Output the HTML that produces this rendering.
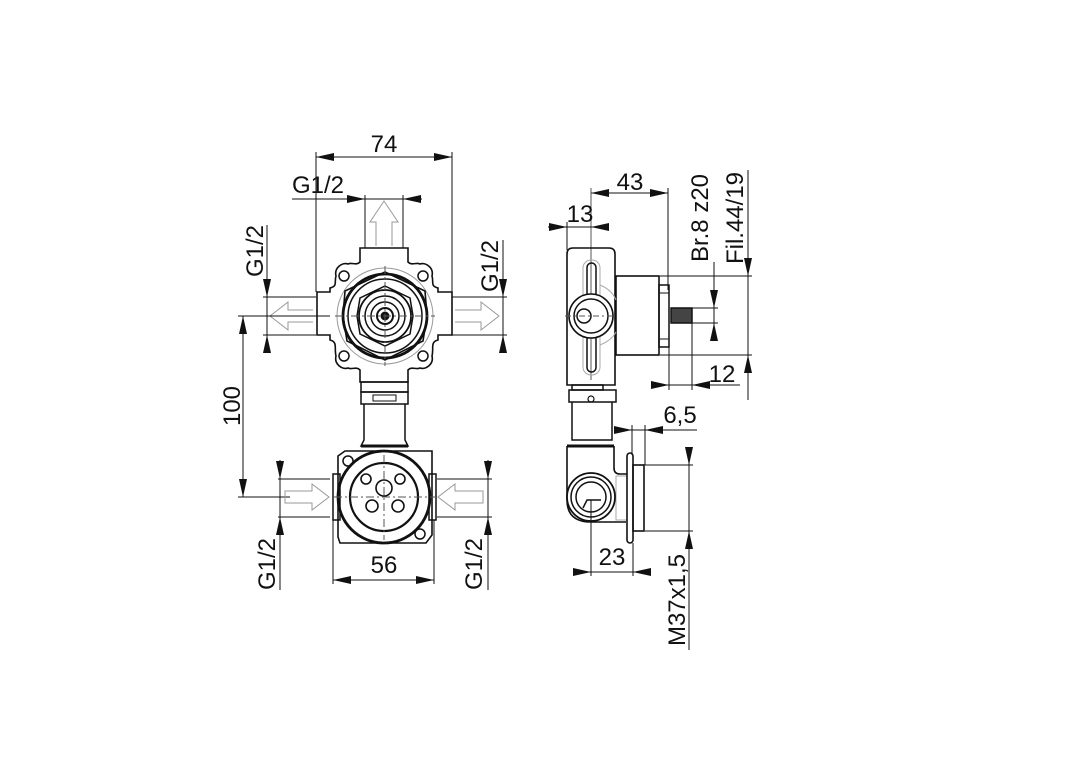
<!DOCTYPE html>
<html><head><meta charset="utf-8"><style>
html,body{margin:0;padding:0;background:#fff;}
svg{display:block;}
text{font-family:"Liberation Sans",Arial,sans-serif;font-size:24px;fill:#111;}
</style></head><body>
<svg width="1080" height="763" viewBox="0 0 1080 763" xmlns="http://www.w3.org/2000/svg">
<g stroke="#111" stroke-width="1" fill="none">
<line x1="316" y1="157" x2="452" y2="157"/>
<line x1="316" y1="152" x2="316" y2="292"/>
<line x1="452" y1="152" x2="452" y2="292"/>
<line x1="292" y1="199" x2="422" y2="199"/>
<line x1="365" y1="195" x2="365" y2="248"/>
<line x1="403" y1="195" x2="403" y2="248"/>
<path d="M376 246 V222 H370 L384 201 L398 222 H392 V246" stroke="#999"/>
<line x1="267" y1="225" x2="267" y2="352"/>
<line x1="263" y1="297" x2="316" y2="297"/>
<line x1="263" y1="335" x2="316" y2="335"/>
<line x1="503" y1="240" x2="503" y2="352"/>
<line x1="452" y1="297" x2="507" y2="297"/>
<line x1="452" y1="335" x2="507" y2="335"/>
<path d="M313 310 H288 V302 L270 316 L288 330 V322 H313" stroke="#999"/>
<path d="M455 310 H481 V302 L499 316 L481 330 V322 H455" stroke="#999"/>
<line x1="243" y1="316" x2="243" y2="497"/>
<line x1="238" y1="316" x2="330" y2="316"/>
<line x1="238" y1="497" x2="290" y2="497"/>
<path d="M360 248 H408 V262 C412 266 416 262 420 264 C426 262 434 268 432 276 C434 282 430 286 438 288 V292 H452 V335 H438 V340 C430 342 434 348 432 356 C434 364 426 370 420 368 C416 370 412 366 408 370 V382 H360 V370 C356 366 352 370 348 368 C342 370 334 364 336 356 C334 348 338 342 330 340 V335 H317 V292 H330 V288 C338 286 334 282 336 276 C334 268 342 262 348 264 C352 262 356 266 360 262 Z" stroke-width="1.6"/>
<circle cx="385" cy="316" r="48" stroke="#999"/>
<circle cx="344" cy="276" r="5" stroke-width="1.5"/>
<circle cx="423" cy="276" r="5" stroke-width="1.5"/>
<circle cx="344" cy="356" r="5" stroke-width="1.5"/>
<circle cx="423" cy="356" r="5" stroke-width="1.5"/>
<path d="M385 272 L425 291 L427 316 L423 341 L385 360 L347 341 L343 316 L345 291 Z" stroke-width="1.6"/>
<circle cx="385" cy="316" r="42" stroke-width="2.8"/>
<circle cx="385" cy="316" r="37" stroke-width="1.5"/>
<path d="M385 286 L410 298 L413 316 L410 334 L385 346 L360 334 L357 316 L360 298 Z" stroke-width="1.5"/>
<circle cx="385" cy="316" r="26" stroke-width="1.8"/>
<circle cx="385" cy="316" r="20" stroke-width="1.5"/>
<circle cx="385" cy="316" r="14" stroke-width="1.5"/>
<circle cx="385" cy="316" r="8" stroke-width="2"/>
<circle cx="385" cy="316" r="4" fill="#111"/>
<line x1="335" y1="316" x2="435" y2="316" stroke-dasharray="8 3 2 3" stroke="#555"/>
<line x1="385" y1="266" x2="385" y2="366" stroke-dasharray="8 3 2 3" stroke="#555"/>
<rect x="361" y="382" width="47" height="10" stroke-width="1.5"/>
<rect x="361" y="392" width="47" height="12" stroke-width="1.5"/>
<rect x="373" y="395" width="23" height="6"/>
<path d="M364 404 V440 L361 446 H408 L405 440 V404" stroke-width="1.5"/>
<line x1="361" y1="446" x2="408" y2="446" stroke-width="3"/>
<path d="M345 451 H432 V535 L426 543 H340 L338 537 V456 Z" stroke-width="1.6"/>
<rect x="333" y="474" width="7" height="46" stroke-width="1.5"/>
<rect x="429" y="474" width="7" height="46" stroke-width="1.5"/>
<circle cx="384" cy="497" r="46" stroke-width="2.8"/>
<circle cx="384" cy="497" r="34" stroke-width="2.2"/>
<circle cx="348" cy="461" r="5" stroke-width="1.5"/>
<circle cx="420" cy="534" r="5" stroke-width="1.5"/>
<circle cx="366" cy="479" r="5" stroke-width="1.6"/>
<circle cx="400" cy="479" r="5" stroke-width="1.6"/>
<circle cx="384" cy="488" r="8" stroke-width="1.6"/>
<circle cx="372" cy="506" r="6" stroke-width="1.6"/>
<circle cx="398" cy="506" r="6" stroke-width="1.6"/>
<line x1="334" y1="497" x2="436" y2="497" stroke-dasharray="8 3 2 3" stroke="#555"/>
<line x1="384" y1="455" x2="384" y2="540" stroke-dasharray="8 3 2 3" stroke="#555"/>
<path d="M285 491 H312 V484 L329 497 L312 510 V503 H285 Z" stroke="#999"/>
<path d="M483 491 H455 V484 L438 497 L455 510 V503 H483 Z" stroke="#999"/>
<line x1="278" y1="479" x2="330" y2="479"/>
<line x1="278" y1="517" x2="330" y2="517"/>
<line x1="437" y1="479" x2="492" y2="479"/>
<line x1="437" y1="517" x2="492" y2="517"/>
<line x1="280" y1="460" x2="280" y2="590"/>
<line x1="488" y1="460" x2="488" y2="590"/>
<line x1="333" y1="580" x2="434" y2="580"/>
<line x1="333" y1="520" x2="333" y2="584"/>
<line x1="434" y1="520" x2="434" y2="584"/>

<line x1="591" y1="193" x2="668" y2="193"/>
<line x1="591" y1="188" x2="591" y2="380" stroke="#555"/>
<line x1="668" y1="188" x2="668" y2="290"/>
<line x1="548" y1="227" x2="609" y2="227"/>
<line x1="567" y1="222" x2="567" y2="250"/>
<path d="M567 385 V254 Q567 248 573 248 H609 Q615 248 615 254 V385 Z" stroke-width="1.6"/>
<rect x="572" y="385" width="31" height="5" stroke-width="1.5"/>
<rect x="616" y="276" width="43" height="79" stroke-width="1.6"/>
<rect x="659" y="285" width="10" height="62" stroke-width="1.5"/>
<line x1="659" y1="293" x2="669" y2="293"/><line x1="659" y1="339" x2="669" y2="339"/>
<rect x="671" y="308" width="21" height="15" stroke-width="1.5" fill="#444"/>
<rect x="587" y="263" width="9" height="109" rx="4.5" stroke-width="1.5"/>
<rect x="583" y="260" width="17" height="115" rx="8" stroke="#aaa"/>
<path d="M600 285 Q612 290 616 300 M600 345 Q612 340 616 332" stroke="#aaa"/>
<circle cx="591" cy="316" r="22" stroke-width="1.6" fill="#fff"/>
<circle cx="591" cy="316" r="17" stroke-width="1.5"/>
<circle cx="584" cy="316" r="7" stroke-width="1.5"/>
<line x1="565" y1="316" x2="615" y2="316" stroke-dasharray="6 3 2 3" stroke="#555"/>
<line x1="714" y1="262" x2="714" y2="340"/>
<line x1="692" y1="308" x2="718" y2="308"/>
<line x1="692" y1="323" x2="718" y2="323"/>
<line x1="748" y1="170" x2="748" y2="400"/>
<line x1="660" y1="276" x2="752" y2="276"/>
<line x1="660" y1="355" x2="752" y2="355"/>
<line x1="651" y1="385" x2="740" y2="385"/>
<line x1="669" y1="347" x2="669" y2="390"/>
<line x1="692" y1="323" x2="692" y2="390"/>
<rect x="569" y="390" width="47" height="12" stroke-width="1.5"/>
<circle cx="591" cy="399" r="3" stroke-width="1.2"/>
<path d="M572 402 V440 H612 V402" stroke-width="1.5"/>
<line x1="567" y1="446" x2="614" y2="446" stroke-width="3"/>
<path d="M567 446 V500 Q567 522 591 522 H626 M614 446 V468 Q614 474 620 474 H627" stroke-width="1.6"/>
<rect x="616" y="476" width="11" height="44" stroke="#aaa"/>
<circle cx="591" cy="497" r="24" stroke-width="1.8" fill="#fff"/>
<circle cx="591" cy="497" r="20" stroke-width="1.5"/>
<circle cx="591" cy="497" r="15" stroke-width="1.5"/>
<path d="M583 508 L587 500 H601" stroke-width="1.5"/>
<rect x="627" y="453" width="6" height="90" rx="3" stroke-width="1.6"/>
<rect x="633" y="465" width="11" height="66" stroke-width="1.6"/>
<line x1="614" y1="430" x2="697" y2="430"/>
<line x1="632" y1="425" x2="632" y2="455"/>
<line x1="645" y1="425" x2="645" y2="465"/>
<line x1="689" y1="447" x2="689" y2="650"/>
<line x1="645" y1="465" x2="693" y2="465"/>
<line x1="645" y1="531" x2="693" y2="531"/>
<line x1="573" y1="572" x2="651" y2="572"/>
<line x1="591" y1="500" x2="591" y2="576"/>
<line x1="633" y1="543" x2="633" y2="576"/>
</g>

<g fill="#111">
<polygon points="316,157 334,153 334,161"/><polygon points="452,157 434,153 434,161"/>
<polygon points="365,199 347,195 347,203"/><polygon points="403,199 421,195 421,203"/>
<polygon points="267,297 263,279 271,279"/><polygon points="267,335 263,353 271,353"/>
<polygon points="503,297 499,279 507,279"/><polygon points="503,335 499,353 507,353"/>
<polygon points="243,316 239,334 247,334"/><polygon points="243,497 239,479 247,479"/>
<polygon points="280,479 276,461 284,461"/><polygon points="280,517 276,535 284,535"/>
<polygon points="488,479 484,461 492,461"/><polygon points="488,517 484,535 492,535"/>
<polygon points="333,580 351,576 351,584"/><polygon points="434,580 416,576 416,584"/>
<polygon points="591,193 609,189 609,197"/><polygon points="668,193 650,189 650,197"/>
<polygon points="567,227 549,223 549,231"/><polygon points="591,227 609,223 609,231"/>
<polygon points="714,308 710,290 718,290"/><polygon points="714,323 710,341 718,341"/>
<polygon points="748,276 744,258 752,258"/><polygon points="748,355 744,373 752,373"/>
<polygon points="669,385 651,381 651,389"/><polygon points="692,385 710,381 710,389"/>
<polygon points="632,430 614,426 614,434"/><polygon points="645,430 663,426 663,434"/>
<polygon points="689,465 685,447 693,447"/><polygon points="689,531 685,549 693,549"/>
<polygon points="591,572 573,568 573,576"/><polygon points="633,572 651,568 651,576"/>
</g>

<text x="384" y="152" text-anchor="middle">74</text>
<text x="318" y="193" text-anchor="middle">G1/2</text>
<text transform="translate(263,251) rotate(-90)" text-anchor="middle">G1/2</text>
<text transform="translate(498,266) rotate(-90)" text-anchor="middle">G1/2</text>
<text transform="translate(240,406) rotate(-90)" text-anchor="middle">100</text>
<text transform="translate(275,564) rotate(-90)" text-anchor="middle">G1/2</text>
<text transform="translate(482,564) rotate(-90)" text-anchor="middle">G1/2</text>
<text x="384" y="573" text-anchor="middle">56</text>
<text x="630" y="190" text-anchor="middle">43</text>
<text x="580" y="222" text-anchor="middle">13</text>
<text transform="translate(708,218) rotate(-90)" text-anchor="middle">Br.8 z20</text>
<text transform="translate(743,218) rotate(-90)" text-anchor="middle">Fil.44/19</text>
<text x="722" y="382" text-anchor="middle">12</text>
<text x="680" y="423" text-anchor="middle">6,5</text>
<text x="612" y="565" text-anchor="middle">23</text>
<text transform="translate(685,600) rotate(-90)" text-anchor="middle">M37x1,5</text>
</svg>
</body></html>
